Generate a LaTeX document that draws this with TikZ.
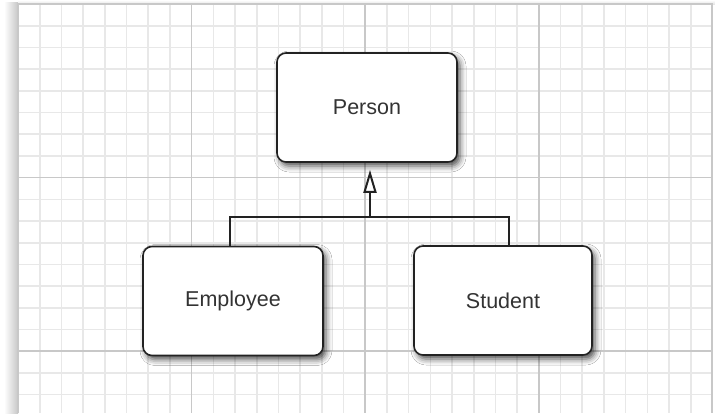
\documentclass[tikz,border=0pt]{standalone}
\usepackage{fontspec}
\setmainfont{Liberation Sans}
\usetikzlibrary{arrows.meta,shadows.blur,calc}
\definecolor{minorgrid}{HTML}{E8E8E8}
\definecolor{majorgrid}{HTML}{C8C8C8}
\definecolor{boxline}{HTML}{222222}
\definecolor{textcol}{HTML}{333333}
\tikzset{
  classbox/.style={draw=boxline, line width=1.6pt, fill=white, rounded corners=9pt,
    minimum width=#1, minimum height=109pt, inner sep=0pt,
    font=\fontsize{21.5}{26}\selectfont, text=textcol,
    blur shadow={shadow xshift=3pt, shadow yshift=-4pt, shadow blur radius=6pt, shadow opacity=70}},
  link/.style={draw=boxline, line width=2pt},
  minorline/.style={draw=minorgrid, line width=1.6pt},
  majorline/.style={draw=majorgrid, line width=1.6pt}
}
\begin{document}
\begin{tikzpicture}[x=1pt,y=-1pt]
\useasboundingbox (0,0) rectangle (715,413);
% paper shadow
\shade[left color=white, right color=black!22] (4,2) rectangle (18,413);
\shade[top color=white, bottom color=black!10] (18,0) rectangle (715,4);
\fill[white] (18,4) rectangle (712,413);
% grid minor
\foreach \i in {1,...,31} {\draw[minorline] ({18+\i*21.7},4) -- ({18+\i*21.7},413);}
\foreach \j in {1,...,18} {\draw[minorline] (18,{4+\j*21.7}) -- (712,{4+\j*21.7});}
% grid major
\foreach \i in {1,2,3} {\draw[majorline] ({18+\i*173.6},4) -- ({18+\i*173.6},413);}
\foreach \j in {1,2} {\draw[majorline] (18,{4+\j*173.6}) -- (712,{4+\j*173.6});}
\draw[majorline] (18,413) -- (18,4) -- (712,4) -- (712,413);
% nodes
\node[classbox=180pt] (per) at (367,107.5) {Person};
\node[classbox=180pt] (emp) at (233,301) {Employee};
\node[classbox=178pt] (stu) at (503,300.5) {Student};
% connectors
\coordinate (j) at (370,217);
\draw[link] ([xshift=-3pt]emp.north) |- (j) -| ([xshift=6pt]stu.north);
\draw[link, -{Triangle[open, length=23pt, width=13pt, line width=2pt]}, shorten >=7pt] (j) -- (j |- per.south);
\end{tikzpicture}
\end{document}
